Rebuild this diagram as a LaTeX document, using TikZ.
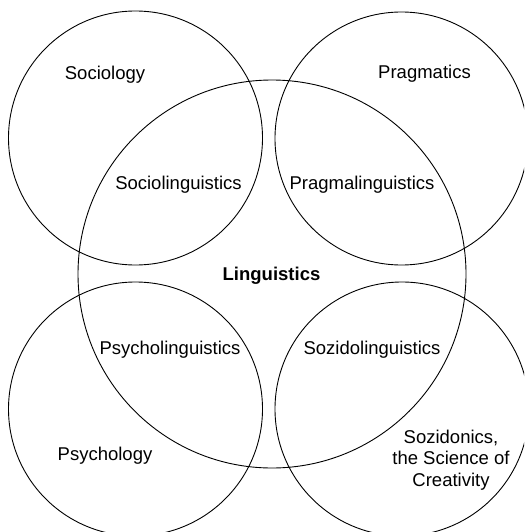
\documentclass[tikz,border=0pt]{standalone}
\usepackage{fontspec}
\setmainfont{Liberation Sans}
\begin{document}
\begin{tikzpicture}[x=1pt,y=-1pt,
  ring/.style={draw=black,line width=0.9pt},
  lbl/.style={font=\fontsize{18.5}{21.5}\selectfont,inner sep=0pt,align=center}]
\useasboundingbox (0,0) rectangle (524,532);
\clip (0,0) rectangle (524,532);
% outer disciplines
\draw[ring] (135.5,138) circle[radius=127];
\draw[ring] (401.5,138.5) circle[radius=126.5];
\draw[ring] (135.5,409) circle[radius=127];
\draw[ring] (402,409) circle[radius=127];
% linguistics in the middle
\draw[ring] (272,274) circle[radius=194];
% labels
\node[lbl] (soc) at (105,75) {Sociology};
\node[lbl] (prag) at (424.5,74) {Pragmatics};
\node[lbl] (socling) at (178.5,185) {Sociolinguistics};
\node[lbl] (pragling) at (362,185) {Pragmalinguistics};
\node[lbl,font=\fontsize{18.5}{21.5}\selectfont\bfseries] (ling) at (271.5,276) {Linguistics};
\node[lbl] (psyling) at (170,350) {Psycholinguistics};
\node[lbl] (sozling) at (372,350) {Sozidolinguistics};
\node[lbl] (psy) at (105,456) {Psychology};
\node[lbl] (soz) at (451,460) {Sozidonics,\\the Science of\\Creativity};
\end{tikzpicture}
\end{document}
